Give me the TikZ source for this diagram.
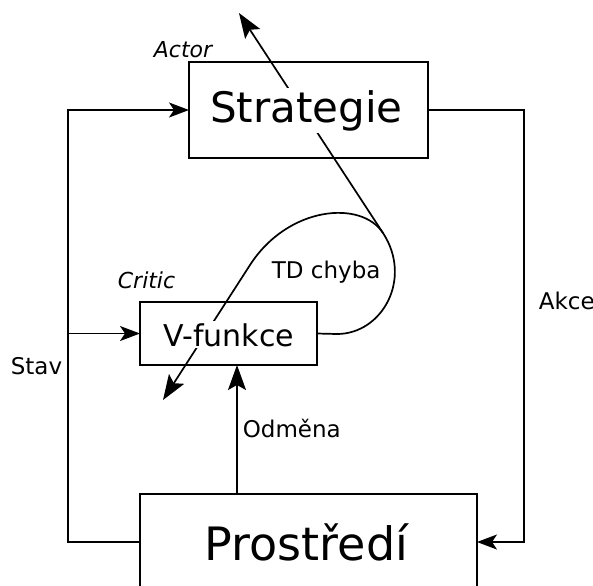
\documentclass[tikz,border=0pt]{standalone}
\usepackage{fontspec}
\setmainfont{DejaVu Sans}
\usetikzlibrary{arrows.meta}

\tikzset{
  box/.style={draw, rectangle, inner sep=0pt, outer sep=0pt},
  boxtext/.style={fill=white, inner sep=1pt, anchor=base},
  lbl/.style={inner sep=0pt, anchor=base west, font=\fontsize{11.5}{14}\selectfont},
  arr/.style={-{Stealth[length=10pt,width=7.5pt,inset=2.5pt]}},
  bigarr/.style={-{Stealth[length=12.5pt,width=9pt,inset=2.5pt]}}
}

\begin{document}
\begin{tikzpicture}[x=0.5pt, y=-0.5pt, line width=0.85pt]
  \clip (0,0) rectangle (593,585);

  \node[box, minimum width=119.5pt, minimum height=48pt] (strat) at (308.5,110) {};
  \node[box, minimum width=88.5pt, minimum height=31.5pt] (vf) at (228.5,333.5) {};
  \node[box, minimum width=168.5pt, minimum height=53pt] (env) at (308.5,547) {};

  \coordinate (l-top) at (68,110);
  \coordinate (l-bot) at (68,542);
  \coordinate (r-top) at (524,110);
  \coordinate (r-bot) at (524,542);
  \coordinate (rew) at (237,0);
  \coordinate (td) at (383,233);
  \coordinate (td-bend) at (250,265);
  \coordinate (actor-tip) at (239,13);
  \coordinate (critic-tip) at (163,400);

  \draw[arr] (env.west |- l-bot) -- (l-bot) -- (l-top) -- (strat.west);
  \draw[arr] (l-top |- vf.west) -- (vf.west);
  \draw[arr] (strat.east) -- (r-top) -- (r-bot) -- (env.east |- r-bot);
  \draw[bigarr] (env.north -| rew) -- (vf.south -| rew);

  % TD chyba
  \draw[bigarr] (vf.east) -- (337,334) .. controls (382,334) and (413,279) .. (td) -- (actor-tip);
  \draw[bigarr] (td) .. controls (361.2,199.5) and (287.8,206.2) .. (td-bend) -- (critic-tip);

  \node[boxtext, font=\fontsize{21}{25}\selectfont] (strat-txt) at (306.5,122) {Strategie};
  \node[boxtext, font=\fontsize{15}{18}\selectfont] (vf-txt) at (229,346) {V-funkce};
  \node[boxtext, font=\fontsize{23}{28}\selectfont] (env-txt) at (306.5,560) {Prostředí};

  \node[lbl, font=\fontsize{11}{13}\selectfont\itshape] (actor) at (153,57) {Actor};
  \node[lbl, font=\fontsize{11}{13}\selectfont\itshape] (critic) at (117,288) {Critic};
  \node[lbl] (tderr) at (271,278) {TD chyba};
  \node[lbl] (stav) at (10,374) {Stav};
  \node[lbl] (akce) at (538,309) {Akce};
  \node[lbl] (odmena) at (242,437) {Odměna};
\end{tikzpicture}
\end{document}
